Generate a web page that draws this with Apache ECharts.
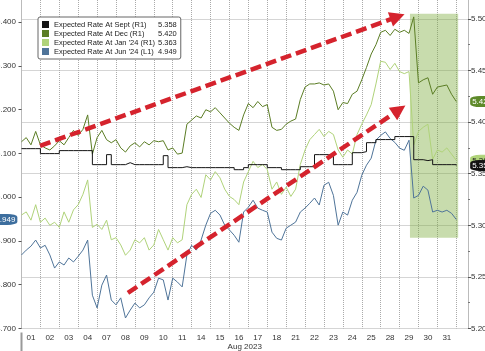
<!DOCTYPE html>
<html><head><meta charset="utf-8">
<script src="https://cdn.jsdelivr.net/npm/echarts@6/dist/echarts.min.js"></script>
<style>html,body{margin:0;padding:0;background:#fff}#c{width:485px;height:351px}</style>
</head><body><div id="c"></div>
<script>
// ---- data ----
const DAYS = ['01','02','03','04','07','08','09','10','11','14','15','16','17','18','21','22','23','24','25','28','29','30','31'];
const PER_DAY = 4; // samples per trading day
const NAMES = ['Expected Rate At Sept (R1)','Expected Rate At Dec (R1)',"Expected Rate At Jan '24 (R1)","Expected Rate At Jun '24 (L1)"];

const SEPT = [5.3743,5.3743,5.3743,5.3743, 5.3695,5.3695,5.3695,5.3695, 5.3724,5.3724,5.3724,5.3724,5.3724,5.3724,5.3724,
 5.3588,5.3588,5.3588, 5.3685, 5.3588,5.3588,5.3588, 5.3607, 5.3588,5.3588,5.3588,5.3588,5.3588,5.3588,5.3588,
 5.3675, 5.3559,5.3559,5.3559, 5.3568, 5.3559,5.3559,5.3559,5.3559,5.3559,5.3559,5.3559,5.3559,5.3559,5.3559,
 5.3539,5.3539, 5.3559, 5.3588,5.3588,5.3588,5.3588, 5.3559,5.3559,5.3559, 5.3539,5.3539,5.3539,5.3539,
 5.3568,5.3568,5.3568, 5.3685,5.3685,5.3685,5.3685, 5.3588,5.3588,5.3588,5.3588, 5.3704,5.3704, 5.3714,
 5.3801,5.3801, 5.3831,5.3831,5.3831,5.3831, 5.3860,5.3860,5.3860,5.3860, 5.3636,5.3636, 5.3627, 5.3636,
 5.3588,5.3588,5.3588,5.3588,5.3588, 5.358];

const DEC = [5.381,5.385,5.378,5.391,5.378,5.375,5.373,5.377,5.382,5.378,5.385,5.392,5.387,5.393,5.407,5.369,
 5.385,5.392,5.383,5.380,5.383,5.375,5.371,5.377,5.380,5.376,5.381,5.378,5.382,5.381,5.382,5.373,
 5.375,5.369,5.370,5.398,5.402,5.406,5.404,5.412,5.410,5.414,5.409,5.404,5.399,5.395,5.392,5.407,
 5.418,5.414,5.420,5.415,5.417,5.395,5.392,5.393,5.398,5.401,5.403,5.422,5.434,5.437,5.437,5.438,
 5.436,5.437,5.430,5.412,5.419,5.418,5.427,5.430,5.441,5.453,5.466,5.475,5.487,5.489,5.484,5.490,
 5.487,5.489,5.486,5.502,5.438,5.441,5.443,5.427,5.434,5.435,5.436,5.427,5.420];

const JAN = [5.310,5.313,5.305,5.320,5.303,5.307,5.300,5.303,5.298,5.313,5.303,5.315,5.320,5.330,5.344,5.298,
 5.301,5.296,5.305,5.286,5.288,5.281,5.271,5.276,5.286,5.283,5.288,5.276,5.281,5.296,5.286,5.276,
 5.288,5.283,5.286,5.320,5.330,5.335,5.327,5.349,5.344,5.352,5.346,5.335,5.328,5.325,5.320,5.342,
 5.352,5.362,5.356,5.359,5.354,5.335,5.342,5.330,5.337,5.328,5.335,5.359,5.373,5.383,5.388,5.393,
 5.386,5.391,5.388,5.373,5.366,5.373,5.369,5.388,5.398,5.407,5.417,5.437,5.459,5.458,5.451,5.457,
 5.449,5.447,5.449,5.378,5.391,5.395,5.398,5.364,5.373,5.371,5.375,5.369,5.363];

const JUN = [4.868,4.879,4.888,4.902,4.884,4.890,4.868,4.838,4.852,4.845,4.861,4.852,4.865,4.879,4.902,4.776,
 4.747,4.799,4.822,4.765,4.754,4.770,4.724,4.742,4.758,4.747,4.754,4.770,4.783,4.815,4.811,4.765,
 4.815,4.806,4.795,4.868,4.890,4.879,4.902,4.936,4.963,4.970,4.959,4.936,4.925,4.913,4.897,4.966,
 4.977,4.993,4.975,4.970,4.966,4.920,4.906,4.902,4.929,4.936,4.943,4.966,4.975,4.986,4.998,4.982,
 5.027,5.034,5.004,4.936,4.966,4.959,4.993,5.011,5.050,5.073,5.089,5.130,5.141,5.149,5.134,5.125,
 5.112,5.107,5.130,4.998,5.004,5.025,5.016,4.966,4.970,4.966,4.970,4.963,4.949];

// annotations (data coordinates: [day, right-axis value])
const ARROWS = [[[0.98,5.377],[19.89,5.502]], [[5.63,5.2345],[19.98,5.412]]];
const SHADE = [[20.55,5.505],[23.1,5.288]];

// ---- layout / style ----
const X_MAX = 23.62, LEFT_MIN = 4.7, LEFT_MAX = 5.4548, RIGHT_MIN = 5.2, RIGHT_MAX = 5.5203;
const FONT = 'Liberation Sans';
const COL = {sept:'#141414', dec:'#5b7d24', jan:'#b0d37a', jun:'#4f7499'};
const last = a => a[a.length-1];
const LASTS = {};
LASTS[NAMES[0]] = last(SEPT).toFixed(3); LASTS[NAMES[1]] = last(DEC).toFixed(3);
LASTS[NAMES[2]] = last(JAN).toFixed(3); LASTS[NAMES[3]] = last(JUN).toFixed(3);
const pts = arr => arr.map((v,i) => [i/PER_DAY, v]);

function badge(x, v, color, textColor, offset, pos) {
  return {coord:[x, v], symbol:'roundRect', symbolSize:[34,10], symbolOffset:[offset,0],
    itemStyle:{color:color, borderColor:color},
    label:{show:true, position:pos, distance:2, formatter:v.toFixed(3), color:textColor, fontSize:8, fontFamily:FONT}};
}

const chart = echarts.init(document.getElementById('c'), null, {renderer:'canvas'});
const option = {
  animation:false,
  backgroundColor:'#fff',
  grid:{left:21.5, right:17, top:-2, bottom:22.5, containLabel:false, outerBoundsMode:'none'},
  legend:{
    data:NAMES, orient:'vertical', left:38, top:17, padding:[3,4,3,4], itemGap:0,
    itemWidth:7, itemHeight:7, icon:'rect', selectedMode:false,
    backgroundColor:'#fff', borderColor:'#666', borderWidth:1, borderRadius:2,
    formatter: n => '{n|' + n + '}{v|' + LASTS[n] + '}',
    textStyle:{fontFamily:FONT, fontSize:7.5, color:'#222', lineHeight:9,
      rich:{n:{width:104, fontFamily:FONT, fontSize:7.5, color:'#222'}, v:{fontFamily:FONT, fontSize:7.5, color:'#222'}}}
  },
  xAxis:{
    type:'value', min:0, max:X_MAX, interval:1,
    axisLine:{show:false}, axisTick:{show:false},
    splitLine:{show:true, lineStyle:{type:'dotted', color:'#aaa', width:1}},
    axisLabel:{customValues: DAYS.map((d,i) => i + 0.5), formatter: v => DAYS[Math.floor(v)],
      fontFamily:FONT, fontSize:8, color:'#333', margin:5},
    name:'Aug 2023', nameLocation:'middle', nameGap:14, nameMoveOverlap:false,
    nameTextStyle:{fontFamily:FONT, fontSize:8, color:'#333'}
  },
  yAxis:[
    {type:'value', position:'left', min:LEFT_MIN, max:LEFT_MAX, interval:0.1, offset:3.5,
      axisLine:{show:true, lineStyle:{color:'#bbb'}},
      axisTick:{show:true, length:3, lineStyle:{color:'#555'}},
      axisLabel:{formatter: v => v.toFixed(3), fontFamily:FONT, fontSize:8, color:'#333', margin:2, showMaxLabel:false},
      splitLine:{show:false}},
    {type:'value', position:'right', min:RIGHT_MIN, max:RIGHT_MAX, interval:0.05,
      axisLine:{show:true, lineStyle:{color:'#bbb'}},
      axisTick:{show:true, length:3, lineStyle:{color:'#555'}},
      minorTick:{show:true, splitNumber:2, length:2, lineStyle:{color:'#777'}},
      axisLabel:{formatter: v => v.toFixed(2), fontFamily:FONT, fontSize:8, color:'#333', margin:3, showMaxLabel:false},
      splitLine:{show:true, lineStyle:{type:'dotted', color:'#aaa', width:1}}}
  ],
  series:[
    {name:'_shade', type:'line', yAxisIndex:1, data:[], silent:true,
      markArea:{silent:true, itemStyle:{color:'rgba(125,172,60,0.42)'},
        data:[[{coord:SHADE[0]},{coord:SHADE[1]}]]}},
    {name:NAMES[3], type:'line', yAxisIndex:0, data:pts(JUN), showSymbol:false, color:COL.jun,
      lineStyle:{width:1, color:COL.jun}},
    {name:NAMES[2], type:'line', yAxisIndex:1, data:pts(JAN), showSymbol:false, color:COL.jan,
      lineStyle:{width:1, color:COL.jan}},
    {name:NAMES[1], type:'line', yAxisIndex:1, data:pts(DEC), showSymbol:false, color:COL.dec,
      lineStyle:{width:1, color:COL.dec}},
    {name:NAMES[0], type:'line', yAxisIndex:1, data:pts(SEPT), showSymbol:false, step:'end', color:COL.sept,
      lineStyle:{width:1, color:COL.sept}},
    {name:'_arrows', type:'line', yAxisIndex:1, data:[], silent:true, z:5,
      markLine:{silent:true, symbol:['none','triangle'], symbolSize:[15,15],
        label:{show:false},
        lineStyle:{color:'#d5232d', width:4.5, type:[11,5], opacity:1},
        data: ARROWS.map(a => [{coord:a[0]},{coord:a[1]}])}},
    {name:'_badgesR', type:'line', yAxisIndex:1, data:[], silent:true, z:6,
      markPoint:{silent:true, data:[
        badge(X_MAX, last(JAN), COL.jan, '#222', 21, 'insideLeft'),
        badge(X_MAX, last(DEC), '#5e8a2a', '#fff', 21, 'insideLeft'),
        badge(X_MAX, last(SEPT), '#111', '#fff', 21, 'insideLeft')]}},
    {name:'_badgesL', type:'line', yAxisIndex:0, data:[], silent:true, z:6,
      markPoint:{silent:true, data:[badge(0, last(JUN), '#3d6e9e', '#fff', -23, 'insideRight')]}}
  ]
};
chart.setOption(option);
// month separator below the x axis at the first day boundary
const x0 = chart.convertToPixel({xAxisIndex:0}, 0);
const yb = chart.convertToPixel({yAxisIndex:1}, RIGHT_MIN);
chart.setOption({graphic:[{type:'rect', silent:true, shape:{x:x0-1, y:yb+4, width:2, height:351-yb}, style:{fill:'#999'}}]});
</script></body></html>
